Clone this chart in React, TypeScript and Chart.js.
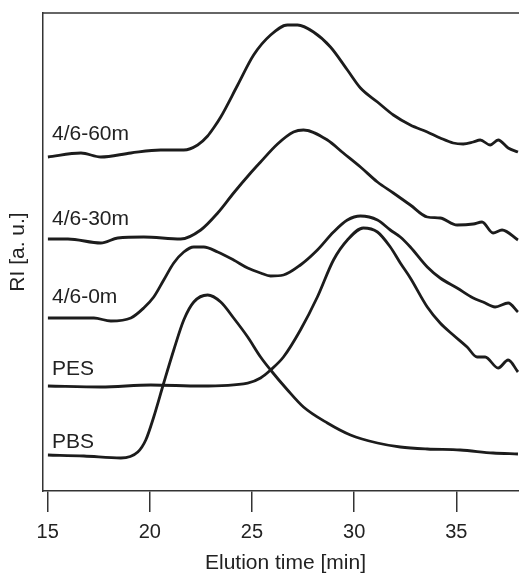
import { useEffect, useRef } from "react";
import { Chart, registerables } from "chart.js";

Chart.register(...registerables);

const FONT = "'Liberation Sans', Arial, Helvetica, sans-serif";

const xTickValues = [15, 20, 25, 30, 35];

const t60 = [15.01, 16.63, 17.6, 19.07, 20.53, 21.66, 22.34, 22.83, 23.12, 23.47, 24.3, 25.08, 25.91, 26.74, 27.23, 28.01, 28.84, 29.67, 30.31, 31.14, 31.92, 32.75, 33.58, 34.21, 34.85, 35.34, 35.83, 36.17, 36.66, 37.05, 37.54, 38.02];
const ri60 = [333, 337, 333, 337, 340, 340, 345, 354, 362, 373, 405, 435, 455, 465, 465, 458, 443, 420, 402, 388, 375, 365, 358, 352, 347, 346, 348, 350, 345, 350, 342, 338];

const t30 = [15.01, 15.99, 17.6, 18.43, 19.7, 21.51, 22.49, 23.32, 24.1, 24.93, 25.42, 26.25, 27.03, 27.52, 28.69, 29.47, 30.31, 31.14, 31.92, 32.75, 33.58, 34.21, 35.04, 35.83, 36.26, 36.8, 37.24, 38.02];
const ri30 = [251, 251, 247, 252, 253, 251, 260, 277, 297, 317, 328, 346, 358, 360, 350, 337, 323, 308, 297, 285, 273, 272, 265, 266, 268, 257, 260, 250];

const t0 = [15.01, 15.99, 17.26, 18.09, 19.07, 19.7, 20.19, 20.68, 21.17, 21.66, 22.15, 22.64, 23.32, 24.1, 24.79, 25.42, 25.91, 26.54, 27.37, 28.2, 28.99, 29.67, 30.31, 31.14, 31.77, 32.26, 32.75, 33.58, 34.21, 35.04, 35.83, 36.31, 36.9, 37.54, 38.02];
const ri0 = [172, 172, 172, 169, 172, 182, 193, 210, 227, 238, 243, 243, 238, 230, 222, 217, 214, 215, 225, 240, 258, 270, 274, 270, 260, 253, 243, 223, 212, 202, 192, 188, 183, 187, 178];

const tPES = [15.01, 17.6, 20.05, 22.49, 24.79, 25.42, 25.91, 26.54, 27.37, 28.2, 28.99, 29.67, 30.45, 31.14, 31.77, 32.26, 32.75, 33.58, 34.21, 34.85, 35.53, 36.02, 36.41, 37.05, 37.54, 38.02];
const riPES = [104, 103, 105, 104, 107, 112, 120, 133, 160, 193, 230, 250, 262, 258, 243, 227, 212, 183, 167, 155, 143, 133, 133, 122, 130, 118];

const tPBS = [15.01, 16.77, 18.58, 19.41, 19.8, 20.19, 20.68, 21.17, 21.66, 22.15, 22.83, 23.47, 24.1, 24.79, 25.42, 25.91, 26.74, 27.52, 28.69, 29.82, 31.14, 32.26, 33.58, 35.19, 36.8, 38.02];
const riPBS = [35, 34, 32, 38, 50, 73, 107, 140, 170, 188, 195, 188, 172, 153, 133, 120, 100, 83, 67, 55, 47, 43, 41, 40, 37, 36];

const seriesNames = ["4/6-60m", "4/6-30m", "4/6-0m", "PES", "PBS"];
const seriesTimes = [t60, t30, t0, tPES, tPBS];
const seriesValues = [ri60, ri30, ri0, riPES, riPBS];
// label anchor (time, RI level of text baseline)
const labelTime = [15.21, 15.21, 15.21, 15.21, 15.21];
const labelLevel = [350, 265, 187, 115, 42];

const AXIS = "#333333";
const INK = "#1c1c1c";

const framePlugin = {
  id: "frameTop",
  afterDraw(chart: any) {
    const { ctx, chartArea } = chart;
    ctx.save();
    ctx.strokeStyle = AXIS;
    ctx.lineWidth = 1.5;
    ctx.beginPath();
    ctx.moveTo(chartArea.left - 0.75, chartArea.top);
    ctx.lineTo(chartArea.right, chartArea.top);
    ctx.stroke();
    ctx.restore();
  },
};

const labelPlugin = {
  id: "seriesLabels",
  afterDatasetsDraw(chart: any) {
    const { ctx, scales } = chart;
    ctx.save();
    ctx.fillStyle = "#222222";
    ctx.font = `21px ${FONT}`;
    ctx.textAlign = "left";
    ctx.textBaseline = "alphabetic";
    seriesNames.forEach((name, i) => {
      const x = scales.x.getPixelForValue(labelTime[i]);
      const y = scales.y.getPixelForValue(labelLevel[i]);
      ctx.fillText(name, x, y);
    });
    ctx.restore();
  },
};

export default function App() {
  const ref = useRef<HTMLCanvasElement | null>(null);

  useEffect(() => {
    if (!ref.current) return;
    const datasets = seriesNames.map((name, i) => ({
      label: name,
      data: seriesTimes[i].map((t, j) => ({ x: t, y: seriesValues[i][j] })),
      borderColor: INK,
      borderWidth: 2.8,
      pointRadius: 0,
      fill: false,
      cubicInterpolationMode: "monotone" as const,
    }));
    const chart = new Chart(ref.current, {
      type: "line",
      data: { datasets },
      plugins: [framePlugin, labelPlugin],
      options: {
        responsive: false,
        animation: false,
        layout: { padding: { left: 2.4, top: 13, right: 0, bottom: 0 } },
        plugins: {
          legend: { display: false },
          tooltip: { enabled: false },
        },
        scales: {
          x: {
            type: "linear",
            min: 14.77,
            max: 38.51,
            afterBuildTicks: (scale: any) => {
              scale.ticks = xTickValues.map((v) => ({ value: v }));
            },
            ticks: {
              font: { family: FONT, size: 20 },
              color: "#222222",
              padding: 8,
              maxRotation: 0,
              autoSkip: false,
            },
            grid: {
              drawOnChartArea: false,
              drawTicks: true,
              tickLength: 21,
              color: AXIS,
              lineWidth: 1.5,
            },
            border: { display: true, color: AXIS, width: 1.5 },
            title: {
              display: true,
              text: "Elution time [min]",
              color: "#222222",
              font: { family: FONT, size: 21, lineHeight: 1 },
              padding: { top: 1, bottom: 0 },
            },
          },
          y: {
            type: "linear",
            min: -1,
            max: 477,
            ticks: { display: false },
            grid: { display: false, drawTicks: false },
            border: { display: true, color: AXIS, width: 1.5 },
            title: {
              display: true,
              text: "RI [a. u.]",
              color: "#222222",
              font: { family: FONT, size: 21, lineHeight: 1.2 },
              padding: { top: 3, bottom: 12.4 },
            },
          },
        },
      },
    });
    return () => chart.destroy();
  }, []);

  return (
    <div
      style={{
        position: "absolute",
        left: 0,
        top: 0,
        width: 519,
        height: 574,
        overflow: "hidden",
        background: "#ffffff",
      }}
    >
      <canvas ref={ref} width={528} height={574} style={{ display: "block" }} />
    </div>
  );
}
